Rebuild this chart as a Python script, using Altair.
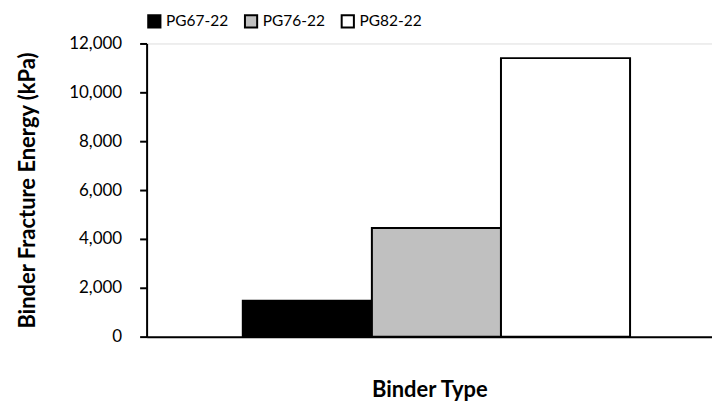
import altair as alt
import pandas as pd

binders = ["PG67-22", "PG76-22", "PG82-22"]
energy = [1470, 4450, 11400]
fills = ["#000000", "#c0c0c0", "#ffffff"]
y_ticks = [0, 2000, 4000, 6000, 8000, 10000, 12000]

df = pd.DataFrame({"group": [""] * len(binders), "binder": binders, "energy": energy})

FONT = "Lato"

chart = alt.Chart(df).mark_bar(stroke="black", strokeWidth=2).encode(
    x=alt.X("group:N", title="Binder Type",
            scale=alt.Scale(paddingInner=0, paddingOuter=0.23, align=0.54),
            axis=alt.Axis(labels=False, ticks=False, domainColor="black", domainWidth=2,
                          titleFont=FONT, titleFontSize=22, titleFontWeight="bold",
                          titleColor="black", titlePadding=43)),
    xOffset=alt.XOffset("binder:N", sort=binders, scale=alt.Scale(paddingInner=0, paddingOuter=0)),
    y=alt.Y("energy:Q", title="Binder Fracture Energy (kPa)",
            scale=alt.Scale(domain=[0, 12000], nice=False),
            axis=alt.Axis(values=y_ticks, format=",.0f", grid=False, domainColor="black", domainWidth=2,
                          tickColor="black", tickWidth=2, tickSize=7,
                          labelFont=FONT, labelFontSize=17, labelColor="black", labelPadding=18,
                          titleFont=FONT, titleFontSize=22, titleFontWeight="bold",
                          titleColor="black", titlePadding=29)),
    fill=alt.Fill("binder:N", sort=binders,
                  scale=alt.Scale(domain=binders, range=fills),
                  legend=alt.Legend(title=None, orient="top", direction="horizontal",
                                    symbolType="square", symbolSize=150, symbolStrokeColor="black",
                                    symbolStrokeWidth=2, labelFont=FONT, labelFontSize=15.5,
                                    labelColor="black", labelOffset=4, columnPadding=12, offset=12)),
).properties(width=567, height=294, padding={"left": 8, "top": 5, "right": 0, "bottom": 5}
).configure_view(stroke=None).configure(background="white")

chart.save("out.html", embed_options={"renderer": "svg", "actions": False})
